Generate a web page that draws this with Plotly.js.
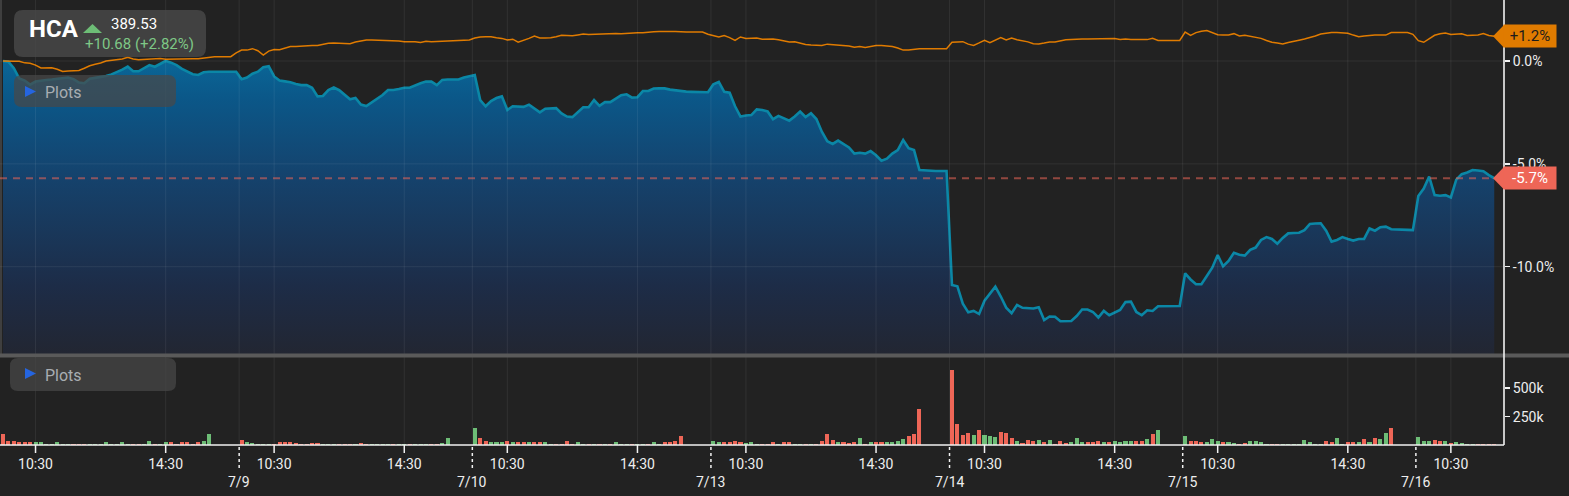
<!DOCTYPE html>
<html><head><meta charset="utf-8">
<script src="https://cdn.plot.ly/plotly-3.0.1.min.js"></script>
<style>html,body{margin:0;padding:0;background:#222222;}#chart{width:1569px;height:496px;}</style>
</head><body><div id="chart"></div>
<script>
// ---------------- DATA ----------------
const SYMBOL = 'HCA';
const LAST_PRICE = '389.53';
const CHANGE_TEXT = '+10.68 (+2.82%)';
const DAYS = ['7/8','7/9','7/10','7/13','7/14','7/15','7/16'];
const SLOT0_TIME = ['9:30','9:20','9:20','9:20','9:20','9:20','9:20'];
const BAR_START = '9:30';
const SLOT_MIN = 10;
const TIME_TICKS = ['10:30','14:30'];
const PCT_TICKS = [0, -5, -10];
const VOL_TICKS = [250, 500];

// HCA % change (10-minute slots)
const HCA_0708 = [0.00,-0.04,-0.35,-0.85,-0.95,-1.15,-1.00,-0.95,-0.92,-0.90,-0.87,-0.84,-0.80,-0.88,-1.05,-1.08,-0.86,-0.82,-0.79,-0.73,-0.65,-0.55,-0.42,-0.27,-0.50,-0.50,-0.37,-0.20,-0.28,-0.15,0.00,-0.08,-0.20,-0.38,-0.52,-0.64,-0.68,-0.55,-0.52,-0.52,-0.52,-0.52,-0.52];
const HCA_0709 = [-0.52,-0.89,-0.80,-0.62,-0.52,-0.30,-0.25,-0.75,-0.95,-0.99,-1.03,-1.12,-1.17,-1.17,-1.30,-1.72,-1.70,-1.41,-1.29,-1.42,-1.62,-1.86,-1.80,-2.12,-2.19,-2.00,-1.81,-1.65,-1.41,-1.41,-1.36,-1.30,-1.30,-1.17,-1.08,-1.00,-1.00,-1.17,-0.92,-0.90,-0.91,-0.90,-0.80];
const HCA_0710 = [-0.75,-0.68,-1.90,-2.20,-1.95,-1.80,-1.72,-2.38,-2.20,-2.22,-2.23,-2.12,-2.33,-2.50,-2.32,-2.29,-2.29,-2.55,-2.70,-2.73,-2.48,-2.25,-2.25,-1.90,-2.18,-2.00,-2.00,-1.85,-1.66,-1.62,-1.78,-1.76,-1.46,-1.46,-1.34,-1.33,-1.33,-1.39,-1.43,-1.47,-1.49,-1.50,-1.51,-1.51];
const HCA_0713 = [-1.52,-1.13,-1.02,-1.50,-1.54,-2.20,-2.70,-2.65,-2.63,-2.35,-2.38,-2.45,-2.83,-2.67,-2.78,-2.90,-2.70,-2.46,-2.72,-2.54,-2.82,-3.44,-3.90,-4.03,-3.87,-4.03,-4.20,-4.50,-4.46,-4.50,-4.38,-4.58,-4.85,-4.75,-4.50,-4.33,-3.84,-4.24,-4.33,-5.30,-5.32,-5.35,-5.35,-5.35];
const HCA_0714 = [-5.35,-10.89,-10.95,-11.80,-12.22,-12.15,-12.30,-11.65,-11.30,-10.97,-11.45,-11.99,-12.26,-11.86,-12.00,-12.03,-12.03,-11.97,-12.59,-12.42,-12.43,-12.65,-12.65,-12.64,-12.40,-12.08,-12.08,-12.20,-12.47,-12.15,-12.36,-12.25,-12.10,-11.72,-11.70,-12.20,-12.36,-12.12,-12.15,-11.92,-11.91,-11.91,-11.91];
const HCA_0715 = [-11.91,-10.32,-10.62,-10.85,-10.85,-10.45,-10.05,-9.43,-9.98,-9.72,-9.32,-9.42,-9.46,-9.18,-9.07,-8.70,-8.56,-8.65,-8.88,-8.60,-8.38,-8.36,-8.35,-8.22,-7.92,-7.90,-7.89,-8.25,-8.78,-8.70,-8.56,-8.65,-8.73,-8.65,-8.65,-8.14,-8.25,-8.08,-8.05,-8.18,-8.20,-8.20,-8.21];
const HCA_0716 = [-8.22,-6.56,-6.20,-5.62,-6.52,-6.55,-6.52,-6.63,-5.77,-5.50,-5.42,-5.30,-5.32,-5.36,-5.55,-5.70];

// Benchmark % change (orange line)
const BENCH_0708 = [0.00,-0.02,-0.01,-0.01,-0.09,-0.11,-0.20,-0.34,-0.32,-0.33,-0.40,-0.51,-0.48,-0.47,-0.46,-0.35,-0.23,-0.16,-0.10,0.00,0.04,0.06,0.10,0.18,0.10,0.06,0.08,0.11,0.10,0.12,0.08,0.09,0.11,0.11,0.11,0.11,0.11,0.15,0.19,0.21,0.21,0.21,0.21];
const BENCH_0709 = [0.40,0.53,0.53,0.60,0.50,0.29,0.48,0.56,0.55,0.63,0.70,0.70,0.73,0.75,0.76,0.76,0.82,0.86,0.88,0.87,0.86,0.84,0.92,0.98,1.02,1.02,1.01,1.00,1.00,1.00,0.97,0.94,0.94,0.94,0.90,0.96,0.94,0.95,0.95,0.98,1.00,1.01,1.02];
const BENCH_0710 = [1.02,1.12,1.17,1.18,1.18,1.13,1.10,1.02,1.06,0.92,1.00,1.10,1.21,1.12,1.12,1.13,1.18,1.25,1.24,1.23,1.27,1.31,1.29,1.30,1.31,1.34,1.35,1.34,1.33,1.35,1.36,1.37,1.37,1.38,1.42,1.44,1.45,1.44,1.43,1.41,1.41,1.41,1.41,1.41];
const BENCH_0713 = [1.30,1.22,1.17,1.24,1.14,1.00,1.17,1.10,1.10,1.12,1.06,1.06,1.07,1.03,0.99,0.93,0.94,0.88,0.80,0.78,0.77,0.76,0.82,0.80,0.76,0.74,0.73,0.67,0.71,0.66,0.70,0.75,0.75,0.73,0.70,0.63,0.53,0.53,0.58,0.60,0.60,0.60,0.60,0.60];
const BENCH_0714 = [0.60,0.91,0.91,0.94,0.82,0.76,0.88,1.01,0.89,1.03,1.14,1.02,1.12,1.03,0.99,0.93,0.84,0.83,0.87,0.92,0.92,0.98,1.03,1.05,1.07,1.07,1.07,1.07,1.08,1.10,1.10,1.09,1.05,1.07,1.05,1.04,1.05,1.04,1.10,1.00,1.00,1.00,1.00];
const BENCH_0715 = [1.00,1.41,1.25,1.38,1.45,1.48,1.38,1.28,1.26,1.27,1.33,1.22,1.25,1.20,1.13,1.10,1.00,0.91,0.87,0.83,0.90,0.97,1.01,1.07,1.13,1.22,1.31,1.35,1.38,1.38,1.38,1.35,1.26,1.18,1.22,1.25,1.26,1.26,1.26,1.38,1.39,1.39,1.39];
const BENCH_0716 = [1.30,0.99,0.91,1.07,1.25,1.32,1.36,1.29,1.30,1.32,1.24,1.25,1.27,1.34,1.24,1.20];

// Volume (thousands of shares), bars from 9:30
const VOL_0708 = [94,35,35,23,23,23,23,23,9,9,23,12,12,9,9,12,9,9,12,23,12,12,23,9,9,12,12,35,12,9,23,23,12,23,23,12,23,35,94];
const VOL_0709 = [44,29,18,9,9,9,12,29,29,23,18,12,9,18,18,9,9,9,9,9,9,12,18,9,9,9,9,9,9,9,9,9,9,9,9,12,12,18,59];
const VOL_0710 = [153,59,35,23,23,23,35,23,23,23,23,23,23,23,12,12,12,35,12,23,12,12,12,12,12,12,23,12,12,12,12,12,12,23,12,23,23,35,79];
const VOL_0713 = [35,23,23,23,35,23,18,23,12,12,12,23,12,23,23,9,9,9,9,9,35,94,44,23,23,15,23,59,9,23,23,23,23,23,35,50,79,94,317];
const VOL_0714 = [660,185,88,103,88,129,88,79,67,114,103,59,35,20,44,35,44,23,44,9,35,15,23,59,23,23,23,35,23,23,35,23,35,35,35,35,50,94,129];
const VOL_0715 = [79,35,35,23,23,50,35,23,23,15,9,20,35,35,23,9,9,9,9,9,9,9,44,23,9,9,35,23,59,9,23,23,23,50,29,59,56,109,153];
const VOL_0716 = [67,35,35,44,35,35,20,29,20,9,9,9,9,9,9];

const HCA_DAYS = [HCA_0708,HCA_0709,HCA_0710,HCA_0713,HCA_0714,HCA_0715,HCA_0716];
const BENCH_DAYS = [BENCH_0708,BENCH_0709,BENCH_0710,BENCH_0713,BENCH_0714,BENCH_0715,BENCH_0716];
const VOL_DAYS = [VOL_0708,VOL_0709,VOL_0710,VOL_0713,VOL_0714,VOL_0715,VOL_0716];

// ---------------- STYLE / LAYOUT ----------------
const W = 1569, H = 496, PW = 1504, PH = 445;
const X_RANGE = [-0.553, 276.8];
const Y_RANGE = [-14.244, 2.966];
const V_RANGE = [0, 774.6];
const MAIN_DOMAIN = [1 - 354/PH, 1];
const VOL_DOMAIN = [0, 1 - 357/PH];
const BG = '#222222';
const GREEN = '#6dbd76', RED = '#ee6657';
const LINE_BLUE = '#0b87a6', ORANGE = '#e07b00';
const FONT = 'Roboto, "Noto Sans", Arial, sans-serif';

const toMin = t => { const p = t.split(':').map(Number); return p[0]*60 + p[1]; };
const fx = p => p / PW;            // pixel -> paper x
const fy = p => 1 - p / PH;        // pixel -> paper y

// build series
const dayStart = []; let acc = 0;
HCA_DAYS.forEach(d => { dayStart.push(acc); acc += d.length; });
const xs = [], hca = [], bench = [];
HCA_DAYS.forEach((d, i) => d.forEach((v, j) => { xs.push(dayStart[i] + j); hca.push(v); bench.push(BENCH_DAYS[i][j]); }));
const vx = [], vy = [], vc = [];
VOL_DAYS.forEach((d, i) => {
  const off = (toMin(BAR_START) - toMin(SLOT0_TIME[i])) / SLOT_MIN;
  d.forEach((v, m) => {
    const k = dayStart[i] + off + m;
    vx.push(k); vy.push(v);
    vc.push(k > 0 && hca[k] > hca[k - 1] ? GREEN : RED);
  });
});

// ticks
const tickX = [], tickT = [], bounds = [];
DAYS.forEach((lab, i) => {
  TIME_TICKS.forEach(t => {
    const k = dayStart[i] + (toMin(t) - toMin(SLOT0_TIME[i])) / SLOT_MIN;
    if (k <= X_RANGE[1]) { tickX.push(k); tickT.push(t); }
  });
  if (i > 0) bounds.push({x: dayStart[i] + 0.55, label: lab});
});

const pctText = v => (v > 0 ? '+' : '') + v.toFixed(1) + '%';
const lastX = xs[xs.length - 1];
const lastH = hca[hca.length - 1], lastB = bench[bench.length - 1];

// traces
const baseline = {x: xs, y: xs.map(() => Y_RANGE[0]), type: 'scatter', mode: 'lines',
  line: {width: 0, color: 'rgba(0,0,0,0)'}, hoverinfo: 'skip', showlegend: false, xaxis: 'x', yaxis: 'y'};
const hcaTrace = {x: xs, y: hca, type: 'scatter', mode: 'lines', fill: 'tonexty',
  line: {color: LINE_BLUE, width: 2.6}, fillcolor: '#15426c',
  fillgradient: {type: 'vertical', start: Y_RANGE[0], stop: 0,
    colorscale: [[0, '#222632'], [0.23, '#1d2c47'], [0.6, '#15426c'], [0.87, '#0b5788'], [1, '#0a6697']]},
  hoverinfo: 'skip', showlegend: false, xaxis: 'x', yaxis: 'y'};
const benchTrace = {x: xs, y: bench, type: 'scatter', mode: 'lines',
  line: {color: ORANGE, width: 1.5}, hoverinfo: 'skip', showlegend: false, xaxis: 'x', yaxis: 'y'};
const volTrace = {x: vx, y: vy, type: 'bar', width: 0.75, marker: {color: vc, line: {width: 0}},
  hoverinfo: 'skip', showlegend: false, xaxis: 'x', yaxis: 'y2'};

// shapes
const shapes = [];
const GRID = 'rgba(255,255,255,0.07)';
tickX.concat(bounds.map(b => b.x)).forEach(x => shapes.push({type: 'line', xref: 'x', yref: 'paper', x0: x, x1: x, y0: 0, y1: 1, line: {color: GRID, width: 1}, layer: 'above'}));
PCT_TICKS.forEach(v => shapes.push({type: 'line', xref: 'paper', yref: 'y', x0: 0, x1: 1, y0: v, y1: v, line: {color: GRID, width: 1}, layer: 'above'}));
// left edge
shapes.push({type: 'line', xref: 'paper', yref: 'paper', x0: fx(1), x1: fx(1), y0: fy(0), y1: fy(354), line: {color: 'rgba(255,255,255,0.18)', width: 1.5}, layer: 'above'});
// panel separator
shapes.push({type: 'rect', xref: 'paper', yref: 'paper', x0: 0, x1: W / PW, y0: fy(357.5), y1: fy(353.5), fillcolor: '#5a5a5a', line: {width: 0}, layer: 'above'});
// axis lines
shapes.push({type: 'line', xref: 'paper', yref: 'paper', x0: 1, x1: 1, y0: 0, y1: 1, line: {color: '#f2f2f2', width: 1.6}, layer: 'above'});
shapes.push({type: 'line', xref: 'paper', yref: 'paper', x0: 0, x1: 1, y0: 0, y1: 0, line: {color: '#f2f2f2', width: 1.6}, layer: 'above'});
// tick marks
tickX.forEach(x => shapes.push({type: 'line', xref: 'x', yref: 'paper', x0: x, x1: x, y0: 0, y1: fy(453), line: {color: '#f2f2f2', width: 1.5}, layer: 'above'}));
bounds.forEach(b => shapes.push({type: 'line', xref: 'x', yref: 'paper', x0: b.x, x1: b.x, y0: fy(447), y1: fy(470), line: {color: '#f2f2f2', width: 1.5, dash: '3px,3px'}, layer: 'above'}));
// last value dashed line
shapes.push({type: 'line', xref: 'x', yref: 'y', x0: X_RANGE[0], x1: lastX, y0: lastH, y1: lastH, line: {color: 'rgba(238,102,87,0.55)', width: 1.8, dash: '7px,6px'}, layer: 'above'});
// tag arrows
const pxPerPct = 354 / (Y_RANGE[1] - Y_RANGE[0]);
const tagArrow = (v, color) => {
  const dv = 11.3 / pxPerPct;
  shapes.push({type: 'path', xref: 'paper', yref: 'y', path: `M ${fx(1493)},${v} L ${fx(1504)},${v + dv} L ${fx(1504)},${v - dv} Z`, fillcolor: color, line: {width: 0}, layer: 'above'});
};
tagArrow(lastB, ORANGE);
tagArrow(lastH, RED);
// rounded boxes
const rr = (x0, y0, x1, y1, r) => {
  const X = fx, Y = fy;
  return `M ${X(x0 + r)},${Y(y0)} L ${X(x1 - r)},${Y(y0)} Q ${X(x1)},${Y(y0)} ${X(x1)},${Y(y0 + r)} L ${X(x1)},${Y(y1 - r)} Q ${X(x1)},${Y(y1)} ${X(x1 - r)},${Y(y1)} L ${X(x0 + r)},${Y(y1)} Q ${X(x0)},${Y(y1)} ${X(x0)},${Y(y1 - r)} L ${X(x0)},${Y(y0 + r)} Q ${X(x0)},${Y(y0)} ${X(x0 + r)},${Y(y0)} Z`;
};
shapes.push({type: 'path', xref: 'paper', yref: 'paper', path: rr(14, 10, 206, 57, 9), fillcolor: 'rgba(74,74,74,0.78)', line: {width: 0}, layer: 'above'});
shapes.push({type: 'path', xref: 'paper', yref: 'paper', path: rr(14, 75, 176, 107, 8), fillcolor: 'rgba(72,72,72,0.72)', line: {width: 0}, layer: 'above'});
shapes.push({type: 'path', xref: 'paper', yref: 'paper', path: rr(10, 358, 176, 391, 8), fillcolor: 'rgba(72,72,72,0.72)', line: {width: 0}, layer: 'above'});
// triangles
const tri = (pts, color) => shapes.push({type: 'path', xref: 'paper', yref: 'paper', path: 'M ' + pts.map(p => `${fx(p[0])},${fy(p[1])}`).join(' L ') + ' Z', fillcolor: color, line: {width: 0}, layer: 'above'});
tri([[83, 33], [102, 33], [92.5, 24]], GREEN);
tri([[25, 86], [25, 97], [36, 91.5]], '#2565e0');
tri([[25, 368], [25, 379], [36, 373.5]], '#2565e0');

// annotations
const ann = [];
const txt = (x, y, text, size, color, opts) => ann.push(Object.assign({xref: 'paper', yref: 'paper', x: fx(x), y: fy(y), text, showarrow: false, xanchor: 'left', yanchor: 'middle', font: {family: FONT, size, color}}, opts || {}));
txt(27, 28.5, '<b>' + SYMBOL + '</b>', 24, '#ffffff');
txt(109, 24, LAST_PRICE, 15, '#ffffff');
txt(83, 44.5, CHANGE_TEXT, 15, '#7ec886');
txt(43, 92, 'Plots', 16, '#a8adb2');
txt(43, 375, 'Plots', 16, '#a8adb2');
bounds.forEach(b => ann.push({xref: 'x', yref: 'paper', x: b.x, y: fy(482), text: b.label, showarrow: false, xanchor: 'center', yanchor: 'middle', font: {family: FONT, size: 14, color: '#eeeeee'}}));
const tag = (v, bg, fg) => ann.push({xref: 'paper', yref: 'y', x: fx(1503), y: v, text: pctText(v), showarrow: false, xanchor: 'left', yanchor: 'middle', width: 52, height: 22, align: 'center', bgcolor: bg, borderpad: 0, font: {family: FONT, size: 15, color: fg}});
tag(lastB, ORANGE, '#1b1b1b');
tag(lastH, RED, '#ffffff');

const layout = {
  width: W, height: H, margin: {l: 0, r: W - PW, t: 0, b: H - PH, pad: 0},
  paper_bgcolor: BG, plot_bgcolor: BG, showlegend: false, bargap: 0,
  font: {family: FONT, color: '#eeeeee', size: 14},
  xaxis: {domain: [0, 1], anchor: 'y2', range: X_RANGE, showgrid: false, zeroline: false, showline: false,
    tickmode: 'array', tickvals: tickX, ticktext: tickT, ticks: 'outside', ticklen: 6, tickcolor: 'rgba(0,0,0,0)',
    tickfont: {family: FONT, size: 14, color: '#eeeeee'}},
  yaxis: {domain: MAIN_DOMAIN, anchor: 'x', side: 'right', range: Y_RANGE, showgrid: false, zeroline: false, showline: false,
    tickmode: 'array', tickvals: PCT_TICKS, ticktext: PCT_TICKS.map(v => v.toFixed(1) + '%'),
    ticks: 'outside', ticklen: 5, tickwidth: 1.5, tickcolor: '#f2f2f2', tickfont: {family: FONT, size: 14, color: '#eeeeee'}},
  yaxis2: {domain: VOL_DOMAIN, anchor: 'x', side: 'right', range: V_RANGE, showgrid: false, zeroline: false, showline: false,
    tickmode: 'array', tickvals: VOL_TICKS, ticktext: VOL_TICKS.map(v => v + 'k'),
    ticks: 'outside', ticklen: 5, tickwidth: 1.5, tickcolor: '#f2f2f2', tickfont: {family: FONT, size: 14, color: '#eeeeee'}},
  shapes, annotations: ann
};

Plotly.newPlot('chart', [baseline, hcaTrace, benchTrace, volTrace], layout, {displayModeBar: false, staticPlot: true});
</script>
</body></html>
